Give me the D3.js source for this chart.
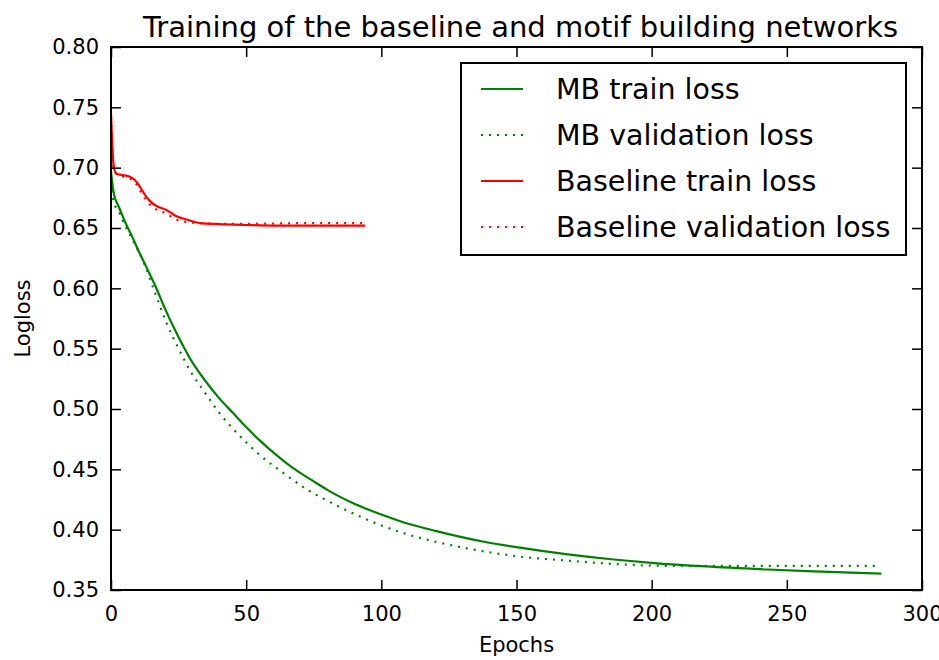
<!DOCTYPE html>
<html><head><meta charset="utf-8">
<script src="https://cdn.jsdelivr.net/npm/d3@7"></script>
<style>body{margin:0;background:#fff}svg{display:block}text{font-family:"DejaVu Sans",sans-serif;fill:#000}</style>
</head><body><svg id="c" width="939" height="660"></svg>
<script>
const title = "Training of the baseline and motif building networks";
const xLabel = "Epochs";
const yLabel = "Logloss";
const xTicks = [0, 50, 100, 150, 200, 250, 300];
const yTicks = [0.35, 0.40, 0.45, 0.50, 0.55, 0.60, 0.65, 0.70, 0.75, 0.80];
const seriesNames = ["MB train loss", "MB validation loss", "Baseline train loss", "Baseline validation loss"];

const mbTrainEpochs = [0,1,3,5,8,10,13,16,20,24,27,30,35,40,45,50,55,60,65,70,75,80,90,100,107,120,138,150,169,185,200,220,243,260,285];
const mbTrainLoss   = [0.697,0.679,0.667,0.656,0.642,0.632,0.618,0.604,0.583,0.564,0.551,0.539,0.523,0.509,0.497,0.485,0.474,0.464,0.455,0.447,0.440,0.433,0.4215,0.4125,0.407,0.399,0.390,0.3855,0.3795,0.3755,0.3725,0.3695,0.367,0.3655,0.3635];

const mbValEpochs = [0,1,3,5,8,12,16,20.6,25,30,34,40,45,55,65,72,80,90,100,107,122,138,150,168,196,210,243,270,284];
const mbValLoss   = [0.688,0.672,0.663,0.653,0.640,0.622,0.598,0.571,0.550,0.529,0.516,0.497,0.484,0.462,0.445,0.434,0.424,0.413,0.4035,0.398,0.389,0.382,0.378,0.3745,0.3705,0.370,0.370,0.370,0.370];

const blTrainEpochs = [0,1,2,4,7,9.5,11,13,15,17,20.5,24,28,33,40,50,60,70,80,94];
const blTrainLoss   = [0.745,0.701,0.695,0.694,0.6925,0.688,0.683,0.676,0.671,0.668,0.665,0.660,0.657,0.654,0.6532,0.6525,0.652,0.652,0.652,0.652];

const blValEpochs = [0,1,2,4,7,9.5,11,13,15,17,20.5,24,28,33,40,50,60,70,80,93];
const blValLoss   = [0.742,0.699,0.695,0.693,0.691,0.686,0.680,0.673,0.668,0.665,0.662,0.657,0.655,0.654,0.6535,0.6535,0.6537,0.654,0.654,0.654];

const svg = d3.select("#c");
const L = 111, R = 922, T = 47, B = 590;
const x = d3.scaleLinear().domain([0, 300]).range([L, R]);
const y = d3.scaleLinear().domain([0.35, 0.80]).range([B, T]);

const series = [
  {ex: mbTrainEpochs, v: mbTrainLoss, color: "#008000", dash: null},
  {ex: mbValEpochs, v: mbValLoss, color: "#008000", dash: "2,6"},
  {ex: blTrainEpochs, v: blTrainLoss, color: "#ff0000", dash: null},
  {ex: blValEpochs, v: blValLoss, color: "#ff0000", dash: "2,6"}
];

svg.append("clipPath").attr("id","pc").append("rect")
  .attr("x", L).attr("y", T).attr("width", R-L).attr("height", B-T);

const line = d3.line().x(d => x(d[0])).y(d => y(d[1])).curve(d3.curveMonotoneX);
const g = svg.append("g").attr("clip-path","url(#pc)");
series.forEach(s => {
  const pts = s.ex.map((e,i) => [e, s.v[i]]);
  g.append("path").attr("d", line(pts)).attr("fill","none")
    .attr("stroke", s.color).attr("stroke-width", 2.2)
    .attr("stroke-dasharray", s.dash);
});

const tl = 10;
const axB = d3.axisBottom(x).tickValues(xTicks).tickSizeInner(-tl).tickSizeOuter(0).tickPadding(16).tickFormat(d3.format("d"));
const axT = d3.axisTop(x).tickValues(xTicks).tickSizeInner(-tl).tickSizeOuter(0).tickFormat("");
const axL = d3.axisLeft(y).tickValues(yTicks).tickSizeInner(-tl).tickSizeOuter(0).tickPadding(12).tickFormat(d3.format(".2f"));
const axRt = d3.axisRight(y).tickValues(yTicks).tickSizeInner(-tl).tickSizeOuter(0).tickFormat("");
function styleAx(sel){
  sel.select(".domain").remove();
  sel.selectAll(".tick line").attr("stroke","#000").attr("stroke-width",1.5);
  sel.selectAll("text").attr("font-size", 21).attr("font-family","DejaVu Sans").attr("fill","#000");
}
svg.append("g").attr("transform",`translate(0,${B})`).call(axB).call(styleAx);
svg.append("g").attr("transform",`translate(0,${T})`).call(axT).call(styleAx);
svg.append("g").attr("transform",`translate(${L},0)`).call(axL).call(styleAx);
svg.append("g").attr("transform",`translate(${R},0)`).call(axRt).call(styleAx);

svg.append("rect").attr("x",L).attr("y",T).attr("width",R-L).attr("height",B-T)
  .attr("fill","none").attr("stroke","#000").attr("stroke-width",2);

svg.append("text").attr("x",(L+R)/2 + 4).attr("y",37).attr("text-anchor","middle")
  .attr("font-size",29).text(title);
svg.append("text").attr("x",(L+R)/2).attr("y",652).attr("text-anchor","middle")
  .attr("font-size",21).text(xLabel);
svg.append("text").attr("transform",`translate(30,${(T+B)/2}) rotate(-90)`).attr("text-anchor","middle")
  .attr("font-size",21).text(yLabel);

const lg = svg.append("g");
lg.append("rect").attr("x",461).attr("y",63).attr("width",445).attr("height",192)
  .attr("fill","#fff").attr("stroke","#000").attr("stroke-width",2);
const rowsY = [89, 135, 181, 227];
series.forEach((s,i) => {
  lg.append("line").attr("x1",481).attr("x2",523).attr("y1",rowsY[i]).attr("y2",rowsY[i])
    .attr("stroke",s.color).attr("stroke-width",2.2).attr("stroke-dasharray", s.dash);
  lg.append("text").attr("x",556).attr("y",rowsY[i]).attr("dy","0.36em")
    .attr("font-size",28.5).text(seriesNames[i]);
});
</script></body></html>
